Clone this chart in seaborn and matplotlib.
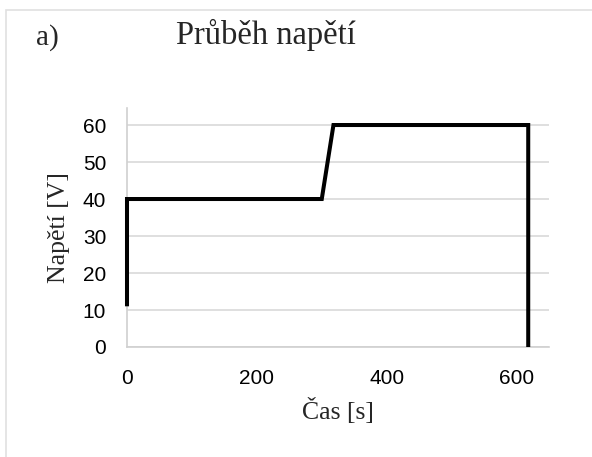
import matplotlib
matplotlib.use("Agg")
import matplotlib.pyplot as plt
import seaborn as sns
import pandas as pd
from matplotlib.patches import Rectangle

time_s = [0, 0, 300, 318, 618, 618]
voltage_v = [11, 40, 40, 60, 60, 0]
x_ticks = [0, 200, 400, 600]
y_ticks = [0, 10, 20, 30, 40, 50, 60]

df = pd.DataFrame({"t": time_s, "u": voltage_v})

sns.set_theme(style="white")
plt.rcParams["font.family"] = ["Liberation Sans", "DejaVu Sans"]

fig = plt.figure(figsize=(5.92, 4.57), dpi=100)
ax = fig.add_axes([127/592, 1-347/457, (549-127)/592, (347-108)/457])

sns.lineplot(data=df, x="t", y="u", sort=False, estimator=None, color="black",
             lw=2.9, ax=ax, solid_joinstyle="miter", solid_capstyle="butt",
             clip_on=False, zorder=5)

ax.set_xlim(0, 650)
ax.set_ylim(0, 64.6)
ax.set_xticks(x_ticks)
ax.set_yticks(y_ticks)
ax.yaxis.grid(True, color="#d9d9d9", lw=1.2)
ax.xaxis.grid(False)
ax.set_axisbelow(True)
for s in ["top", "right"]:
    ax.spines[s].set_visible(False)
for s in ["left", "bottom"]:
    ax.spines[s].set_color("#d0d0d0")
    ax.spines[s].set_linewidth(1.2)
ax.tick_params(axis="both", length=0, labelsize=15, colors="black")
ax.tick_params(axis="y", pad=15)
ax.tick_params(axis="x", pad=16)

serif = ["Liberation Serif", "DejaVu Serif"]
ax.set_xlabel("Čas [s]", family=serif, fontsize=18.5, labelpad=7)
ax.set_ylabel("Napětí [V]", family=serif, fontsize=18.5, labelpad=9)

fig.text(266/592, 1-35/457, "Průběh napětí", family=serif, fontsize=23.5,
         ha="center", va="center")
fig.text(36/592, 1-38/457, "a)", family=serif, fontsize=21, ha="left", va="center")

fig.patches.append(Rectangle((6/592, -0.05), 1.1, 1.05 - 10/457,
                             transform=fig.transFigure, fill=False,
                             edgecolor="#e0e0e0", lw=1.2))

fig.savefig("out.png", dpi=100)
